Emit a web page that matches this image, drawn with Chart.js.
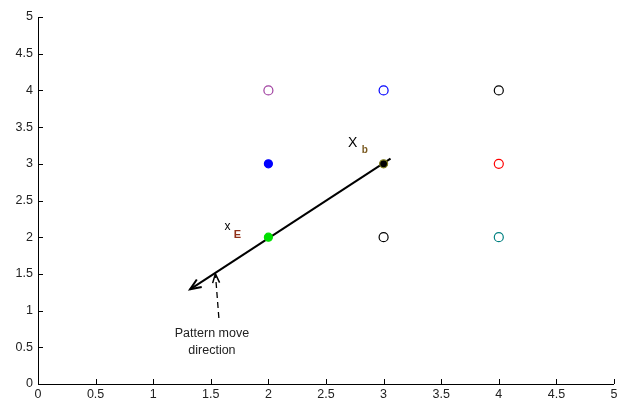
<!DOCTYPE html>
<html>
<head>
<meta charset="utf-8">
<script src="https://cdn.jsdelivr.net/npm/chart.js@4/dist/chart.umd.min.js"></script>
<style>
  html, body { margin: 0; padding: 0; background: #fff; }
  #wrap { width: 626px; height: 402px; position: relative; }
</style>
</head>
<body>
<div id="wrap"><canvas id="c" width="626" height="402"></canvas></div>
<script>
  // grid of candidate points
  const openX = [2, 3, 4, 4, 3, 4];
  const openY = [4, 4, 4, 3, 2, 2];
  const openColors = ["#a040a0", "#0000ff", "#000000", "#ff0000", "#000000", "#008080"];
  const filledX = [2, 3, 2];
  const filledY = [3, 3, 2];
  const filledColors = ["#0000ff", "#000000", "#00e000"];
  const filledBorders = ["#0000ff", "#808020", "#00e000"];

  // pattern move arrow (from base point toward and past x_E)
  const moveX = [3.06, 1.32];
  const moveY = [3.07, 1.29];
  // dashed pointer from the caption up to the arrow
  const pointerX = [1.57, 1.54];
  const pointerY = [0.90, 1.50];

  const ticks = [0, 0.5, 1, 1.5, 2, 2.5, 3, 3.5, 4, 4.5, 5];

  const tickFont = { family: "'Liberation Sans', Arial, sans-serif", size: 12.5 };

  function pts(xs, ys) {
    return xs.map(function(x, i) { return { x: x, y: ys[i] }; });
  }

  function arrowHead(ctx, x0, y0, x1, y1, len, half) {
    const a = Math.atan2(y1 - y0, x1 - x0);
    ctx.beginPath();
    ctx.moveTo(x1 - len * Math.cos(a) + half * Math.sin(a), y1 - len * Math.sin(a) - half * Math.cos(a));
    ctx.lineTo(x1, y1);
    ctx.lineTo(x1 - len * Math.cos(a) - half * Math.sin(a), y1 - len * Math.sin(a) + half * Math.cos(a));
    ctx.stroke();
  }

  const decor = {
    id: "decor",
    afterDraw: function(chart) {
      const ctx = chart.ctx;
      const xs = chart.scales.x, ys = chart.scales.y;
      const area = chart.chartArea;
      ctx.save();
      // axes with inward ticks
      ctx.strokeStyle = "#000";
      ctx.lineWidth = 1;
      ctx.beginPath();
      ctx.moveTo(area.left + 0.5, area.top);
      ctx.lineTo(area.left + 0.5, area.bottom + 0.5);
      ctx.lineTo(area.right, area.bottom + 0.5);
      ctx.stroke();
      ticks.forEach(function(t) {
        const px = Math.round(xs.getPixelForValue(t)) + 0.5;
        const py = Math.round(ys.getPixelForValue(t)) + 0.5;
        ctx.beginPath();
        ctx.moveTo(px, area.bottom);
        ctx.lineTo(px, area.bottom - 5);
        ctx.moveTo(area.left, py);
        ctx.lineTo(area.left + 5, py);
        ctx.stroke();
      });

      // arrow heads
      ctx.lineWidth = 2;
      arrowHead(ctx,
        xs.getPixelForValue(moveX[0]), ys.getPixelForValue(moveY[0]),
        xs.getPixelForValue(moveX[1]), ys.getPixelForValue(moveY[1]), 11, 4.5);
      ctx.lineWidth = 1.5;
      arrowHead(ctx,
        xs.getPixelForValue(pointerX[0]), ys.getPixelForValue(pointerY[0]),
        xs.getPixelForValue(pointerX[1]), ys.getPixelForValue(pointerY[1]), 9, 3.5);

      // labels
      ctx.fillStyle = "#222";
      ctx.textBaseline = "middle";
      ctx.textAlign = "center";
      ctx.font = "12.5px 'Liberation Sans', Arial, sans-serif";
      ctx.fillText("Pattern move", xs.getPixelForValue(1.51), ys.getPixelForValue(0.69));
      ctx.fillText("direction", xs.getPixelForValue(1.51), ys.getPixelForValue(0.46));

      ctx.fillStyle = "#000";
      ctx.textAlign = "left";
      ctx.font = "14px 'Liberation Sans', Arial, sans-serif";
      ctx.fillText("X", xs.getPixelForValue(2.69), ys.getPixelForValue(3.28));
      ctx.font = "bold 10px 'Liberation Sans', Arial, sans-serif";
      ctx.fillStyle = "#7a5a20";
      ctx.fillText("b", xs.getPixelForValue(2.81), ys.getPixelForValue(3.19));

      ctx.fillStyle = "#000";
      ctx.font = "12px 'Liberation Sans', Arial, sans-serif";
      ctx.fillText("x", xs.getPixelForValue(1.62), ys.getPixelForValue(2.14));
      ctx.font = "bold 11px 'Liberation Sans', Arial, sans-serif";
      ctx.fillStyle = "#903018";
      ctx.fillText("E", xs.getPixelForValue(1.70), ys.getPixelForValue(2.03));
      ctx.restore();
    }
  };

  new Chart(document.getElementById("c"), {
    type: "scatter",
    data: {
      datasets: [
        {
          label: "move",
          type: "line",
          data: pts(moveX, moveY),
          borderColor: "#000",
          borderWidth: 2,
          pointRadius: 0,
          fill: false,
          order: 3
        },
        {
          label: "pointer",
          type: "line",
          data: pts(pointerX, pointerY),
          borderColor: "#000",
          borderWidth: 1.3,
          borderDash: [6, 4],
          pointRadius: 0,
          fill: false,
          order: 3
        },
        {
          label: "open",
          data: pts(openX, openY),
          pointRadius: 4.5,
          pointBorderWidth: 1.2,
          pointBackgroundColor: "rgba(0,0,0,0)",
          pointBorderColor: openColors,
          order: 1
        },
        {
          label: "filled",
          data: pts(filledX, filledY),
          pointRadius: 4,
          pointBorderWidth: 1.2,
          pointBackgroundColor: filledColors,
          pointBorderColor: filledBorders,
          order: 1
        }
      ]
    },
    options: {
      responsive: false,
      animation: false,
      layout: { padding: { top: 17, right: 12, left: 0, bottom: 0 } },
      plugins: { legend: { display: false }, tooltip: { enabled: false } },
      scales: {
        x: {
          type: "linear", min: 0, max: 5,
          afterBuildTicks: function(s) { s.ticks = ticks.map(function(v) { return { value: v }; }); },
          afterFit: function(s) { s.height = 18; },
          grid: { display: false, drawTicks: false },
          border: { display: false },
          ticks: { color: "#222", font: tickFont, padding: 3, maxRotation: 0,
                   callback: function(v) { return String(v); } }
        },
        y: {
          type: "linear", min: 0, max: 5,
          afterBuildTicks: function(s) { s.ticks = ticks.map(function(v) { return { value: v }; }); },
          afterFit: function(s) { s.width = 38; },
          grid: { display: false, drawTicks: false },
          border: { display: false },
          ticks: { color: "#222", font: tickFont, padding: 5,
                   callback: function(v) { return String(v); } }
        }
      }
    },
    plugins: [decor]
  });
</script>
</body>
</html>
